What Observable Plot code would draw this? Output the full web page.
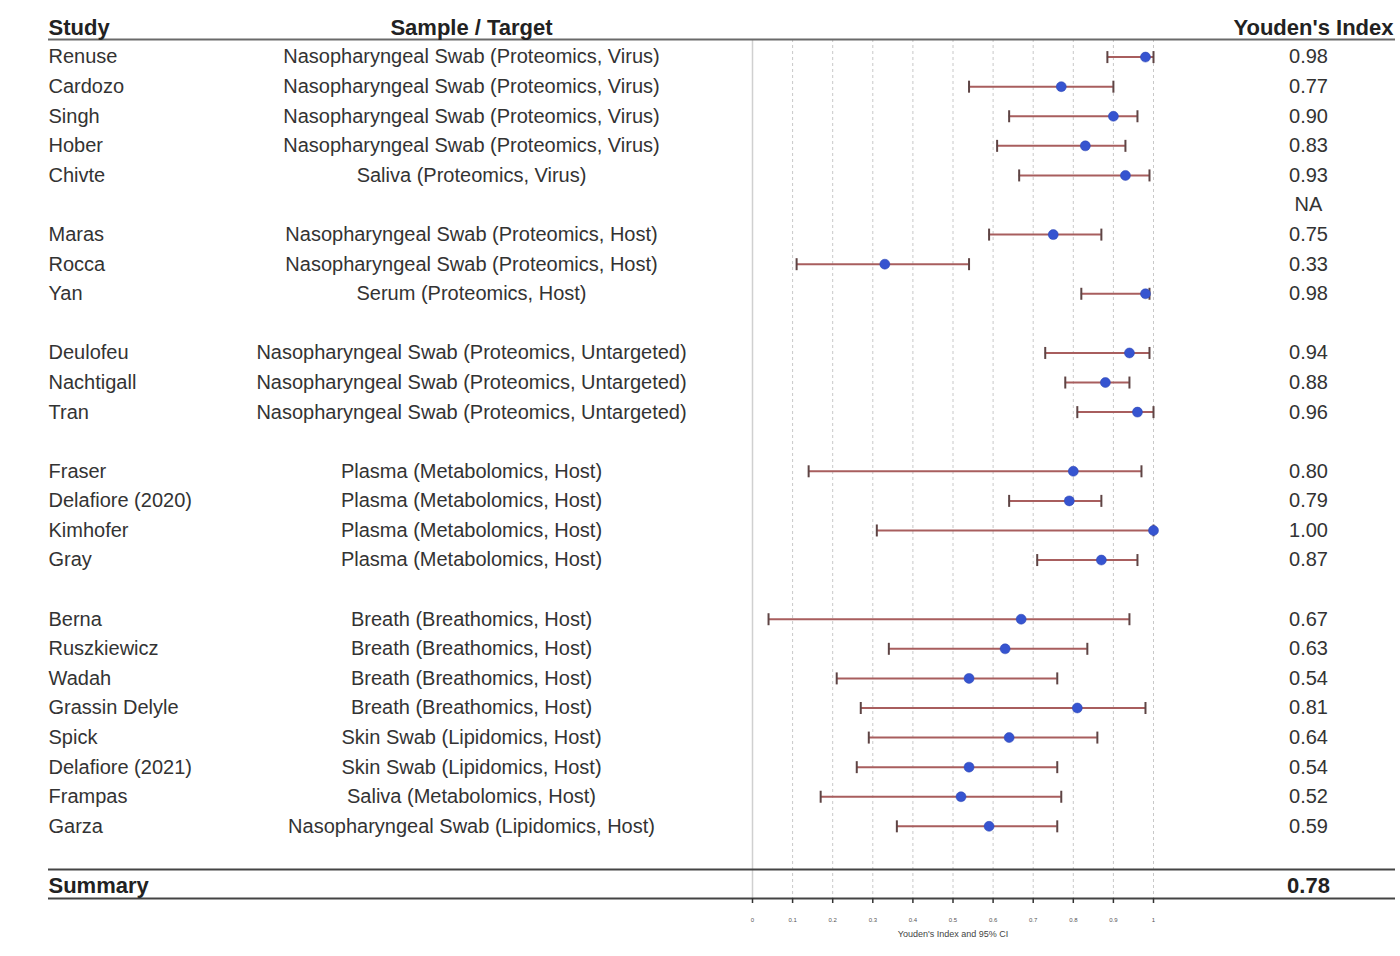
<!DOCTYPE html>
<html>
<head>
<meta charset="utf-8">
<script src="https://cdn.jsdelivr.net/npm/d3@7"></script>
<script src="https://cdn.jsdelivr.net/npm/@observablehq/plot@0.6"></script>
<style>
  html, body { margin: 0; padding: 0; background: #fff; }
  svg { display: block; }
</style>
</head>
<body>
<div id="chart"></div>
<script>
// ---- data (rows in display order; null = spacer row) ----
const studies = ["Renuse","Cardozo","Singh","Hober","Chivte",null,"Maras","Rocca","Yan",null,
  "Deulofeu","Nachtigall","Tran",null,"Fraser","Delafiore (2020)","Kimhofer","Gray",null,
  "Berna","Ruszkiewicz","Wadah","Grassin Delyle","Spick","Delafiore (2021)","Frampas","Garza"];
const samples = [
  "Nasopharyngeal Swab (Proteomics, Virus)","Nasopharyngeal Swab (Proteomics, Virus)",
  "Nasopharyngeal Swab (Proteomics, Virus)","Nasopharyngeal Swab (Proteomics, Virus)",
  "Saliva (Proteomics, Virus)",null,
  "Nasopharyngeal Swab (Proteomics, Host)","Nasopharyngeal Swab (Proteomics, Host)",
  "Serum (Proteomics, Host)",null,
  "Nasopharyngeal Swab (Proteomics, Untargeted)","Nasopharyngeal Swab (Proteomics, Untargeted)",
  "Nasopharyngeal Swab (Proteomics, Untargeted)",null,
  "Plasma (Metabolomics, Host)","Plasma (Metabolomics, Host)","Plasma (Metabolomics, Host)",
  "Plasma (Metabolomics, Host)",null,
  "Breath (Breathomics, Host)","Breath (Breathomics, Host)","Breath (Breathomics, Host)",
  "Breath (Breathomics, Host)","Skin Swab (Lipidomics, Host)","Skin Swab (Lipidomics, Host)",
  "Saliva (Metabolomics, Host)","Nasopharyngeal Swab (Lipidomics, Host)"];
const youden = [0.98,0.77,0.90,0.83,0.93,null,0.75,0.33,0.98,null,0.94,0.88,0.96,null,
  0.80,0.79,1.00,0.87,null,0.67,0.63,0.54,0.81,0.64,0.54,0.52,0.59];
const lower = [0.885,0.54,0.64,0.61,0.665,null,0.59,0.11,0.82,null,0.73,0.78,0.81,null,
  0.14,0.64,0.31,0.71,null,0.04,0.34,0.21,0.27,0.29,0.26,0.17,0.36];
const upper = [1.00,0.90,0.96,0.93,0.99,null,0.87,0.54,0.99,null,0.99,0.94,1.00,null,
  0.97,0.87,1.00,0.96,null,0.94,0.835,0.76,0.98,0.86,0.76,0.77,0.76];
const indexLabels = ["0.98","0.77","0.90","0.83","0.93","NA","0.75","0.33","0.98","",
  "0.94","0.88","0.96","","0.80","0.79","1.00","0.87","","0.67","0.63","0.54","0.81",
  "0.64","0.54","0.52","0.59"];
const headers = ["Study", "Sample / Target", "Youden's Index"];
const summaryLabel = "Summary";
const summaryValue = "0.78";
const xTicks = [0,0.1,0.2,0.3,0.4,0.5,0.6,0.7,0.8,0.9,1];
const axisTitle = "Youden's Index and 95% CI";

// ---- table built from the arrays ----
const rows = studies.map((s, i) => ({
  row: i, study: s, sample: samples[i], est: youden[i],
  lo: lower[i], hi: upper[i], label: indexLabels[i]
}));
const estRows = rows.filter(d => d.est != null);
const HEADER_ROW = -1, SUMMARY_ROW = rows.length + 1;

const FONT = "'Liberation Sans Narrow', 'Arial Narrow', 'Liberation Sans', Arial, sans-serif";
const TXT = "#333";

// vertical cap symbol for CI whiskers
const vbar = { draw(ctx, size) { const h = Math.sqrt(size / Math.PI); ctx.moveTo(0, -h); ctx.lineTo(0, h); } };

const fullRule = {insetLeft: -704, insetRight: -242, strokeWidth: 2};

const chart = Plot.plot({
  width: 1400, height: 956,
  marginLeft: 752, marginRight: 247, marginTop: 39, marginBottom: 58,
  x: {domain: [0, 1]},
  y: {domain: [HEADER_ROW, SUMMARY_ROW], range: [27, 885], axis: null},
  style: {fontFamily: FONT, color: TXT, background: "white"},
  marks: [
    Plot.gridX(xTicks.slice(1), {stroke: "#c8c8c8", strokeOpacity: 1, strokeDasharray: "3,3"}),
    Plot.ruleX([0], {stroke: "#d0d0d0", strokeWidth: 1.5}),
    // header + summary rules
    Plot.ruleY([HEADER_ROW], {...fullRule, dy: 12, stroke: "#6a6a6a"}),
    Plot.ruleY([SUMMARY_ROW], {...fullRule, dy: -16, stroke: "#444"}),
    Plot.ruleY([SUMMARY_ROW], {...fullRule, dy: 13, stroke: "#444"}),
    // CI whiskers
    Plot.ruleY(estRows, {y: "row", x1: "lo", x2: "hi", stroke: "#a85e5e", strokeWidth: 2}),
    Plot.dot(estRows, {x: "lo", y: "row", symbol: vbar, r: 6, stroke: "#5e4444", strokeWidth: 2}),
    Plot.dot(estRows, {x: "hi", y: "row", symbol: vbar, r: 6, stroke: "#5e4444", strokeWidth: 2}),
    Plot.dot(estRows, {x: "est", y: "row", r: 5, fill: "#3654d0", stroke: "#2c44b0", strokeWidth: 0.5}),
    // table text
    Plot.text(rows, {y: "row", text: "study", frameAnchor: "left", dx: -704, textAnchor: "start", fontSize: 20, fill: TXT}),
    Plot.text(rows, {y: "row", text: "sample", frameAnchor: "left", dx: -281, textAnchor: "middle", fontSize: 20, fill: TXT}),
    Plot.text(rows, {y: "row", text: "label", frameAnchor: "right", dx: 155, textAnchor: "middle", fontSize: 20, fill: TXT}),
    // headers
    Plot.text([headers[0]], {y: [HEADER_ROW], frameAnchor: "left", dx: -704, textAnchor: "start", fontSize: 22, fontWeight: "bold", fill: "#222"}),
    Plot.text([headers[1]], {y: [HEADER_ROW], frameAnchor: "left", dx: -281, textAnchor: "middle", fontSize: 22, fontWeight: "bold", fill: "#222"}),
    Plot.text([headers[2]], {y: [HEADER_ROW], frameAnchor: "right", dx: 240, textAnchor: "end", fontSize: 22, fontWeight: "bold", fill: "#222"}),
    // summary
    Plot.text([summaryLabel], {y: [SUMMARY_ROW], frameAnchor: "left", dx: -704, textAnchor: "start", fontSize: 22, fontWeight: "bold", fill: "#222"}),
    Plot.text([summaryValue], {y: [SUMMARY_ROW], frameAnchor: "right", dx: 155, textAnchor: "middle", fontSize: 22, fontWeight: "bold", fill: "#222"}),
    // x axis
    Plot.axisX(xTicks, {anchor: "bottom", tickFormat: "~g", fontSize: 6, tickSize: 5, tickPadding: 14, label: null, stroke: "#333", strokeWidth: 1.5, fill: "#555"}),
    Plot.text([axisTitle], {frameAnchor: "bottom", dy: 38, fontSize: 9, fill: "#444"})
  ]
});
document.getElementById("chart").appendChild(chart);
</script>
</body>
</html>
